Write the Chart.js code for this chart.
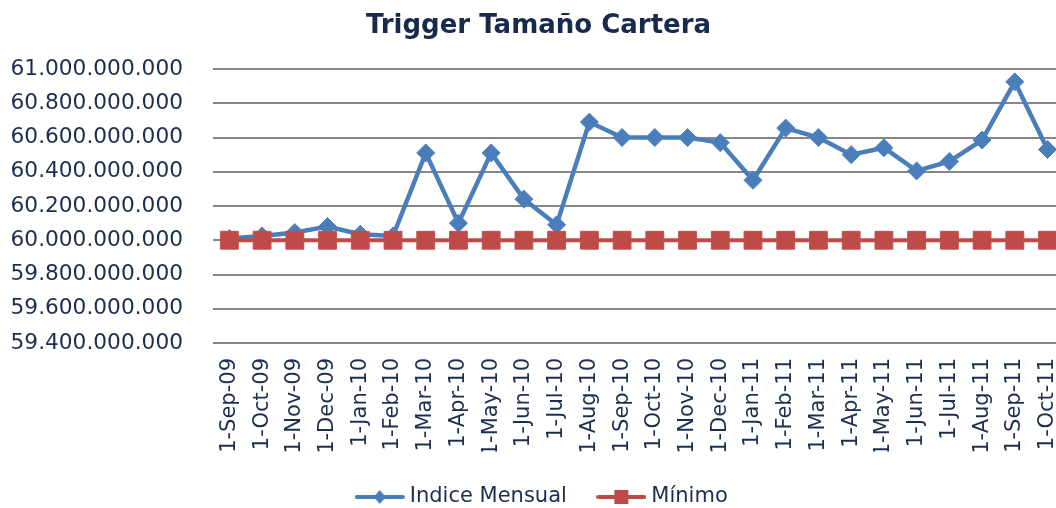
<!DOCTYPE html>
<html>
<head>
<meta charset="utf-8">
<script src="https://cdn.jsdelivr.net/npm/chart.js@4/dist/chart.umd.min.js"></script>
<style>
  html, body { margin: 0; padding: 0; overflow: hidden; background: #ffffff; }
  #wrap { width: 1088px; height: 508px; position: relative; }
</style>
</head>
<body>
<div id="wrap"><canvas id="c"></canvas></div>
<script>
const chartTitle = 'Trigger Tamaño Cartera';
const categories = ['1-Sep-09','1-Oct-09','1-Nov-09','1-Dec-09','1-Jan-10','1-Feb-10','1-Mar-10','1-Apr-10','1-May-10','1-Jun-10','1-Jul-10','1-Aug-10','1-Sep-10','1-Oct-10','1-Nov-10','1-Dec-10','1-Jan-11','1-Feb-11','1-Mar-11','1-Apr-11','1-May-11','1-Jun-11','1-Jul-11','1-Aug-11','1-Sep-11','1-Oct-11'];
const seriesNames = ['Indice Mensual', 'Mínimo'];
const indiceMensual = [60010000000,60025000000,60045000000,60080000000,60035000000,60025000000,60510000000,60100000000,60510000000,60240000000,60090000000,60690000000,60600000000,60600000000,60600000000,60570000000,60350000000,60655000000,60600000000,60500000000,60540000000,60405000000,60460000000,60585000000,60925000000,60530000000];
const minimo = [60000000000,60000000000,60000000000,60000000000,60000000000,60000000000,60000000000,60000000000,60000000000,60000000000,60000000000,60000000000,60000000000,60000000000,60000000000,60000000000,60000000000,60000000000,60000000000,60000000000,60000000000,60000000000,60000000000,60000000000,60000000000,60000000000];
const yMin = 59400000000;
const yMax = 61000000000;
const yStep = 200000000;

const BLUE = '#4A7EBB';
const RED = '#BE4B48';
const TEXT = '#1c2e4e';

function fmt(v) {
  return Math.round(v).toString().replace(/\B(?=(\d{3})+(?!\d))/g, '.');
}

function legendIcon(color, kind) {
  const c = document.createElement('canvas');
  c.width = 50; c.height = 16;
  const x = c.getContext('2d');
  x.strokeStyle = color; x.lineWidth = 4; x.lineCap = 'round';
  x.beginPath(); x.moveTo(2, 8); x.lineTo(48, 8); x.stroke();
  x.fillStyle = color;
  if (kind === 'diamond') {
    x.beginPath(); x.moveTo(25, 1); x.lineTo(31, 8); x.lineTo(25, 15); x.lineTo(19, 8); x.closePath(); x.fill();
  } else {
    x.fillRect(18, 1, 14, 14);
  }
  return c;
}
const icons = [legendIcon(BLUE, 'diamond'), legendIcon(RED, 'square')];

const titleShift = {
  id: 'titleShift',
  afterLayout(chart) {
    const t = chart.titleBlock;
    if (t) { t.left -= 5.5; t.right -= 5.5; }
  }
};

new Chart(document.getElementById('c'), {
  type: 'line',
  data: {
    labels: categories,
    datasets: [
      {
        label: seriesNames[0],
        data: indiceMensual,
        borderColor: BLUE,
        backgroundColor: BLUE,
        borderWidth: 4.5,
        pointStyle: 'rectRot',
        pointRadius: 9,
        pointBorderWidth: 1,
        pointBorderColor: '#4F81BD',
        pointBackgroundColor: BLUE,
        tension: 0,
        order: 1
      },
      {
        label: seriesNames[1],
        data: minimo,
        borderColor: RED,
        backgroundColor: RED,
        borderWidth: 4,
        pointStyle: 'rect',
        pointRadius: 12.6,
        pointBorderWidth: 1,
        pointBorderColor: '#C0504D',
        pointBackgroundColor: RED,
        tension: 0,
        order: 0
      }
    ]
  },
  options: {
    responsive: true,
    maintainAspectRatio: false,
    animation: false,
    layout: { padding: { left: 0, right: 0, top: 0, bottom: -9.5 } },
    plugins: {
      title: {
        display: true,
        text: chartTitle,
        color: '#172a4b',
        font: { family: 'DejaVu Sans', size: 26, weight: 'bold', lineHeight: 1.2 },
        padding: { top: 11, bottom: 26.8 }
      },
      legend: {
        position: 'bottom',
        labels: {
          usePointStyle: true,
          pointStyleWidth: 39,
          padding: 35,
          color: TEXT,
          font: { family: 'DejaVu Sans', size: 21 },
          generateLabels(chart) {
            return chart.data.datasets.map((ds, i) => ({
              text: ds.label,
              fillStyle: ds.backgroundColor,
              strokeStyle: ds.borderColor,
              lineWidth: 0,
              pointStyle: icons[i],
              datasetIndex: i,
              hidden: false,
              fontColor: TEXT
            }));
          }
        }
      },
      tooltip: { enabled: false }
    },
    scales: {
      x: {
        offset: true,
        grid: { display: false, drawTicks: false },
        border: { display: false },
        ticks: {
          autoSkip: false,
          minRotation: 90,
          maxRotation: 90,
          padding: 15,
          color: TEXT,
          font: { family: 'DejaVu Sans', size: 21 }
        },
        afterFit(scale) { scale.height = 108.5; }
      },
      y: {
        min: yMin,
        max: yMax,
        grid: { color: '#878787', lineWidth: 2, drawTicks: false },
        border: { display: false },
        ticks: {
          stepSize: yStep,
          padding: 30,
          color: TEXT,
          font: { family: 'DejaVu Sans', size: 21.7 },
          callback: (v) => fmt(v)
        },
        afterFit(scale) { scale.width = 213; }
      }
    }
  },
  plugins: [titleShift]
});
</script>
</body>
</html>
